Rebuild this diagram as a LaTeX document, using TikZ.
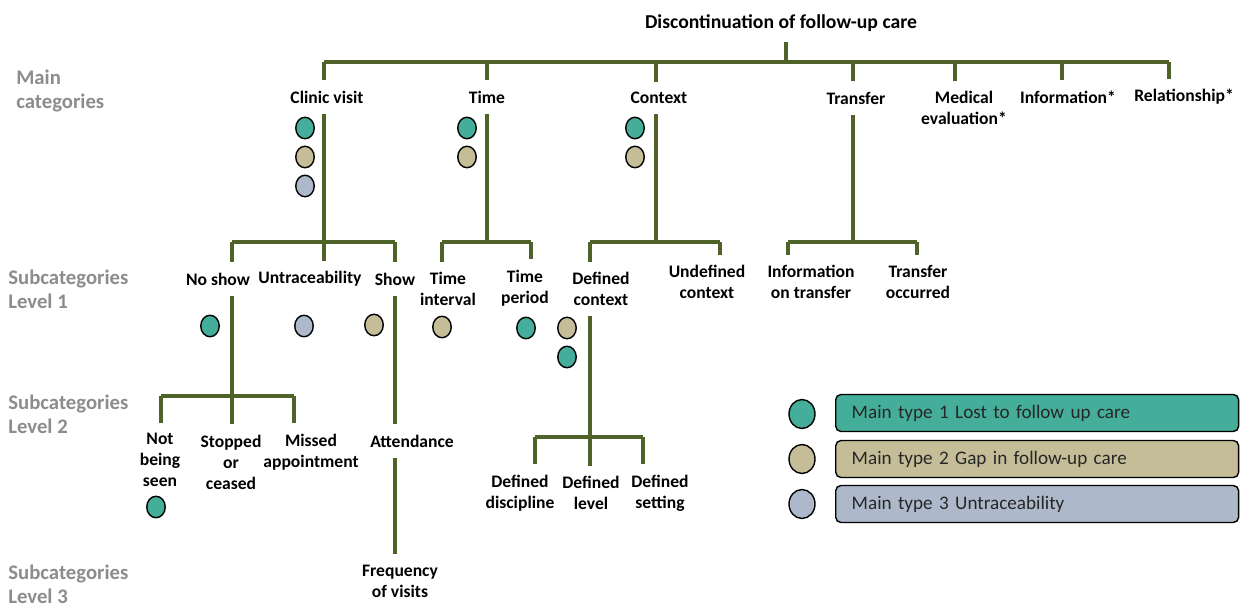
\documentclass[tikz,border=0pt]{standalone}
\usepackage{fontspec}
\setmainfont{Carlito}
\usepackage{tikz}
\usetikzlibrary{shapes.geometric}
\definecolor{treegreen}{HTML}{4F6228}
\definecolor{tealdot}{HTML}{45AE9A}
\definecolor{khakidot}{HTML}{C4BD97}
\definecolor{slatedot}{HTML}{ADB9CA}
\definecolor{levelgray}{HTML}{8C8C8C}
\tikzset{
    tree/.style={draw=treegreen, line width=1.75pt},
    cat/.style={
           font=\fontsize{10}{12}\selectfont\bfseries,
           align=center,
           inner sep=1pt,
           outer ysep=5pt},
    toptitle/.style={cat, font=\fontsize{11.2}{13}\selectfont\bfseries},
    lvl/.style={
           font=\fontsize{11.8}{13.6}\selectfont\bfseries,
           text=levelgray,
           align=left,
           anchor=west,
           inner sep=0pt},
    dot/.style={ellipse, draw=black, thick, inner sep=0pt,
           minimum width=0.37cm, minimum height=0.43cm},
    dot_t/.style={dot, fill=tealdot},
    dot_k/.style={dot, fill=khakidot},
    dot_s/.style={dot, fill=slatedot},
    bigdot/.style={ellipse, draw=black, thick, inner sep=0pt,
           minimum width=0.52cm, minimum height=0.58cm},
    key/.style={
           rectangle,
           rounded corners=3pt,
           draw=black, thick,
           anchor=west,
           text width=7.42cm,
           inner xsep=0.32cm,
           minimum height=0.74cm,
           align=left,
           text=black!85,
           font=\fontsize{10.9}{13}\selectfont}
    }
\begin{document}
\begin{tikzpicture}[x=0.02cm, y=-0.02cm]
      \useasboundingbox (0,0) rectangle (1240,607);
      % row labels
      \node[lvl] (l0) at (16,91) {Main\\categories};
      \node[lvl] (l1) at (8,289) {Subcategories\\Level 1};
      \node[lvl] (l2) at (8,414) {Subcategories\\Level 2};
      \node[lvl] (l3) at (8,584) {Subcategories\\Level 3};
      % main categories
      \node[toptitle] (title) at (781,23) {Discontinuation of follow-up care};
      \node[cat] (clinic) at (327,97) {Clinic visit};
      \node[cat] (time) at (487,97) {Time};
      \node[cat] (context) at (659,98) {Context};
      \node[cat] (transfer) at (856,98) {Transfer};
      \node[cat] (medeval) at (964,108) {Medical\\evaluation*};
      \node[cat] (info) at (1068,97) {Information*};
      \node[cat] (relation) at (1184,97) {Relationship*};
      % level 1
      \node[cat] (noshow) at (218,279) {No show};
      \node[cat] (untrace) at (310,279) {Untraceability};
      \node[cat] (show) at (395,279) {Show};
      \node[cat] (tinterval) at (448,289) {Time\\interval};
      \node[cat] (tperiod) at (525,288) {Time\\period};
      \node[cat] (defctx) at (601,289) {Defined\\context};
      \node[cat] (undefctx) at (707,282) {Undefined\\context};
      \node[cat] (infotrans) at (811,282) {Information\\on transfer};
      \node[cat] (occurred) at (918,282) {Transfer\\occurred};
      % level 2 and 3
      \node[cat] (notseen) at (160,460) {Not\\being\\seen};
      \node[cat] (stopped) at (231,462) {Stopped\\or\\ceased};
      \node[cat] (missed) at (311,452) {Missed\\appointment};
      \node[cat] (attend) at (412,441) {Attendance};
      \node[cat] (freq) at (400,581) {Frequency\\of visits};
      \node[cat] (ddisc) at (520,493) {Defined\\discipline};
      \node[cat] (dlevel) at (591,493) {Defined\\level};
      \node[cat] (dset) at (660,493) {Defined\\setting};
      % type markers
      \node[dot_t] (m1) at (305,128) {};
      \node[dot_k] (m2) at (305,157) {};
      \node[dot_s] (m3) at (305,186) {};
      \node[dot_t] (m4) at (467,128) {};
      \node[dot_k] (m5) at (467,157) {};
      \node[dot_t] (m6) at (635,128) {};
      \node[dot_k] (m7) at (635,157) {};
      \node[dot_t] (m8) at (210,326) {};
      \node[dot_s] (m9) at (304,326) {};
      \node[dot_k] (m10) at (374,325) {};
      \node[dot_k] (m11) at (442,327) {};
      \node[dot_t] (m12) at (526,328) {};
      \node[dot_k] (m13) at (567,328) {};
      \node[dot_t] (m14) at (567,357) {};
      \node[dot_t] (m15) at (156,507) {};
      % junctions
      \coordinate (j0) at (786,62);
      \coordinate (c1) at (324,62);
      \coordinate (c2) at (487,62);
      \coordinate (c3) at (656,62);
      \coordinate (c4) at (853,62);
      \coordinate (c5) at (955,62);
      \coordinate (c6) at (1062,62);
      \coordinate (c7) at (1169,62);
      \coordinate (j1) at (324,242);
      \coordinate (k1a) at (232,242);
      \coordinate (k1c) at (395,242);
      \coordinate (j2) at (487,242);
      \coordinate (k2a) at (442,242);
      \coordinate (k2c) at (531,242);
      \coordinate (j3) at (656,242);
      \coordinate (k3a) at (590,242);
      \coordinate (k3c) at (720,242);
      \coordinate (j4) at (853,242);
      \coordinate (k4a) at (788,242);
      \coordinate (k4c) at (917,242);
      \coordinate (j5) at (232,396);
      \coordinate (k5a) at (161,396);
      \coordinate (k5c) at (294,396);
      \coordinate (j6) at (590,437);
      \coordinate (k6a) at (535,437);
      \coordinate (k6c) at (643,437);
      % tree lines
      \draw[tree] (j0 |- title.south) -- (j0);
      \draw[tree] (c1) -- (c7);
      \draw[tree] (c1) -- (c1 |- clinic.north);
      \draw[tree] (c2) -- (c2 |- time.north);
      \draw[tree] (c3) -- (c3 |- context.north);
      \draw[tree] (c4) -- (c4 |- transfer.north);
      \draw[tree] (c5) -- (c5 |- medeval.north);
      \draw[tree] (c6) -- (c6 |- info.north);
      \draw[tree] (c7) -- (c7 |- relation.north);
      \draw[tree] (j1 |- clinic.south) -- (j1);
      \draw[tree] (k1a) -- (k1c);
      \draw[tree] (k1a) -- (k1a |- noshow.north);
      \draw[tree] (j1) -- (j1 |- untrace.north);
      \draw[tree] (k1c) -- (k1c |- show.north);
      \draw[tree] (j2 |- time.south) -- (j2);
      \draw[tree] (k2a) -- (k2c);
      \draw[tree] (k2a) -- (k2a |- tinterval.north);
      \draw[tree] (k2c) -- (k2c |- tperiod.north);
      \draw[tree] (j3 |- context.south) -- (j3);
      \draw[tree] (k3a) -- (k3c);
      \draw[tree] (k3a) -- (k3a |- defctx.north);
      \draw[tree] (k3c) -- (k3c |- undefctx.north);
      \draw[tree] (j4 |- transfer.south) -- (j4);
      \draw[tree] (k4a) -- (k4c);
      \draw[tree] (k4a) -- (k4a |- infotrans.north);
      \draw[tree] (k4c) -- (k4c |- occurred.north);
      \draw[tree] (j5 |- noshow.south) -- (j5);
      \draw[tree] (k5a) -- (k5c);
      \draw[tree] (k5a) -- (k5a |- notseen.north);
      \draw[tree] (j5) -- (j5 |- stopped.north);
      \draw[tree] (k5c) -- (k5c |- missed.north);
      \draw[tree] (k1c |- show.south) -- (k1c |- attend.north);
      \draw[tree] (k1c |- attend.south) -- (k1c |- freq.north);
      \draw[tree] (j6 |- defctx.south) -- (j6);
      \draw[tree] (k6a) -- (k6c);
      \draw[tree] (k6a) -- (k6a |- ddisc.north);
      \draw[tree] (j6) -- (j6 |- dlevel.north);
      \draw[tree] (k6c) -- (k6c |- dset.north);
      % legend
      \node[bigdot, fill=tealdot] (g1) at (802,414) {};
      \node[bigdot, fill=khakidot] (g2) at (802,459) {};
      \node[bigdot, fill=slatedot] (g3) at (802,504) {};
      \node[key, fill=tealdot] (t1) at (835,413) {Main type 1 Lost to follow up care};
      \node[key, fill=khakidot] (t2) at (835,459) {Main type 2 Gap in follow-up care};
      \node[key, fill=slatedot] (t3) at (835,504) {Main type 3 Untraceability};
\end{tikzpicture}
\end{document}
